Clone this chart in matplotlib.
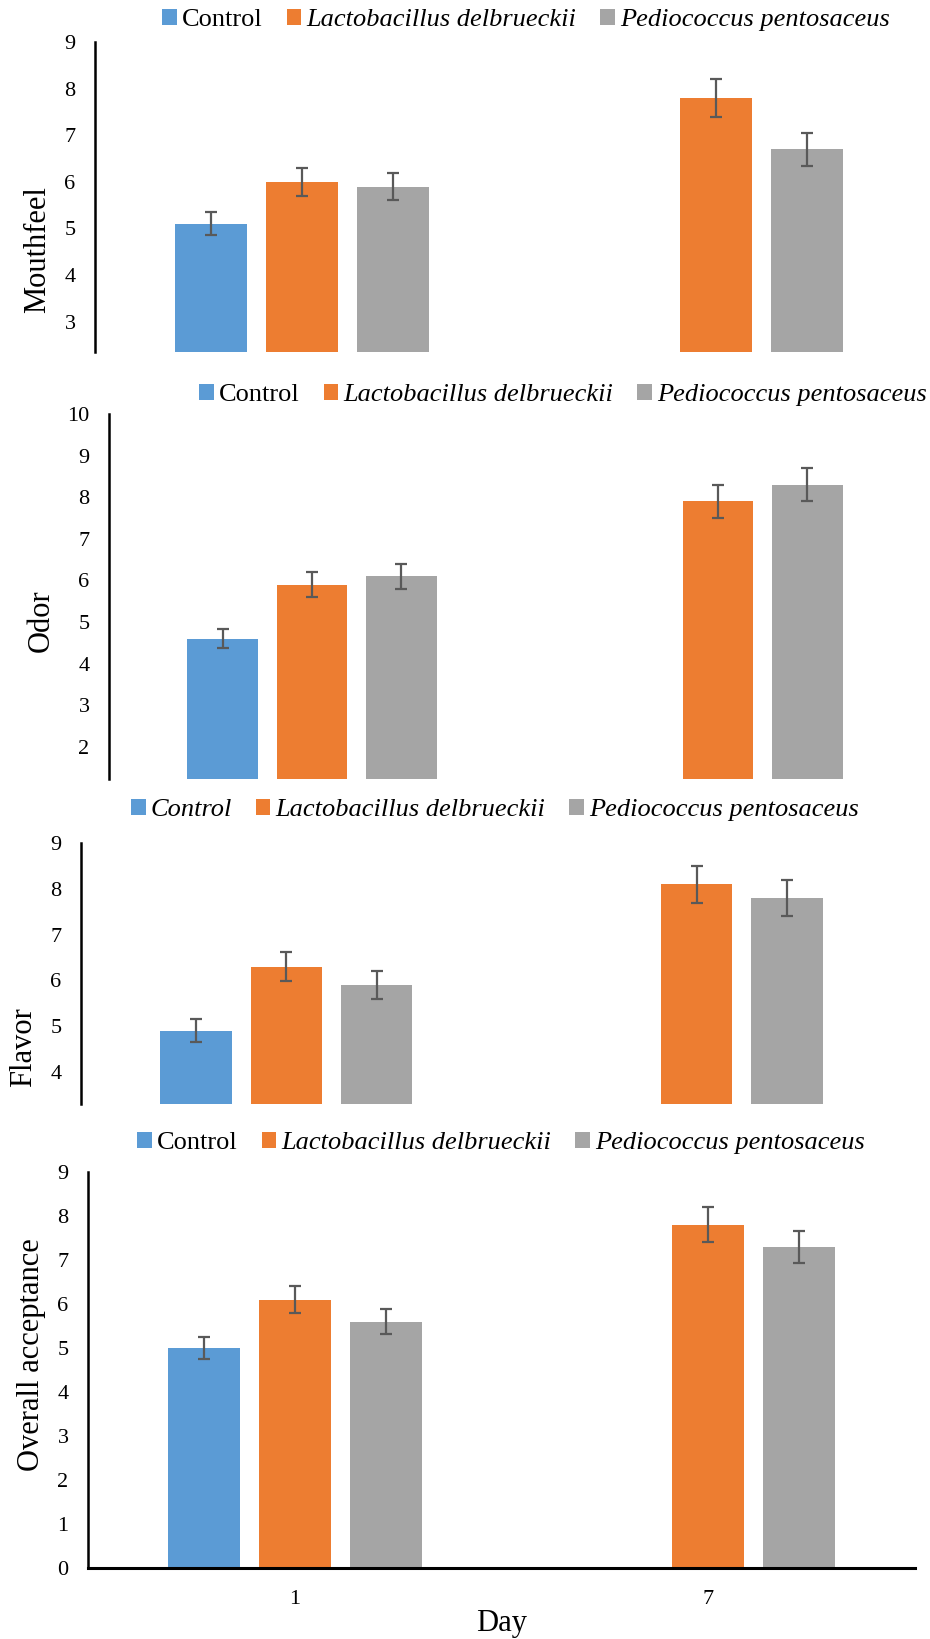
import numpy as np
import matplotlib
matplotlib.use('Agg')
import matplotlib.pyplot as plt

plt.rcParams['font.family'] = ['Liberation Serif', 'DejaVu Serif']

# data
days = ['1', '7']
groups = ['Control', 'Lactobacillus delbrueckii', 'Pediococcus pentosaceus']
colors = ['#5B9BD5', '#ED7D31', '#A5A5A5']

mouthfeel = [[5.1, 0.0], [6.0, 7.8], [5.9, 6.7]]
mouthfeel_err = [[0.25, 0.0], [0.30, 0.40], [0.30, 0.35]]

odor = [[4.6, 0.0], [5.9, 7.9], [6.1, 8.3]]
odor_err = [[0.23, 0.0], [0.30, 0.40], [0.30, 0.40]]

flavor = [[4.9, 0.0], [6.3, 8.1], [5.9, 7.8]]
flavor_err = [[0.25, 0.0], [0.31, 0.40], [0.30, 0.40]]

overall = [[5.0, 0.0], [6.1, 7.8], [5.6, 7.3]]
overall_err = [[0.25, 0.0], [0.31, 0.40], [0.29, 0.37]]

W, H = 930, 1639
fig = plt.figure(figsize=(W / 100, H / 100), dpi=100)


def px_axes(left, right, top, bottom):
    return fig.add_axes([left / W, 1 - bottom / H, (right - left) / W, (bottom - top) / H])


def draw_panel(box, vals, errs, ylim, ticks, ylabel, label_xy, legend_xy,
               italic_control=False, show_x=False):
    ax = px_axes(*box)
    x = np.arange(len(days))
    width = 0.174
    step = 0.22
    for i, (v, e) in enumerate(zip(vals, errs)):
        xs = x + (i - 1) * step
        v = np.array(v)
        e = np.array(e)
        ax.bar(xs, v, width, color=colors[i], label=groups[i], zorder=2)
        m = v > 0
        ax.errorbar(xs[m], v[m], yerr=e[m], fmt='none', ecolor='#595959',
                    elinewidth=1.6, capsize=4.5, capthick=1.6, zorder=3)
    ax.set_xlim(-0.5, 1.5)
    ax.set_ylim(*ylim)
    ax.set_yticks(ticks)
    ax.tick_params(axis='y', length=0, pad=14, labelsize=16)
    for s in ['top', 'right']:
        ax.spines[s].set_visible(False)
    ax.spines['left'].set_linewidth(1.8)
    if show_x:
        ax.spines['bottom'].set_linewidth(2.2)
        ax.set_xticks(x)
        ax.set_xticklabels(days)
        ax.tick_params(axis='x', length=0, pad=16, labelsize=16)
        ax.set_xlabel('Day', fontsize=22, labelpad=0)
    else:
        ax.spines['bottom'].set_visible(False)
        ax.set_xticks([])
    fig.text(label_xy[0] / W, 1 - label_xy[1] / H, ylabel, rotation=90,
             ha='center', va='center', fontsize=22)
    leg = ax.legend(loc='center', bbox_to_anchor=(legend_xy[0] / W, 1 - legend_xy[1] / H),
                    bbox_transform=fig.transFigure, ncol=3, frameon=False,
                    fontsize=19, handlelength=0.55, handleheight=0.55,
                    handletextpad=0.2, columnspacing=0.9, borderpad=0)
    texts = leg.get_texts()
    texts[1].set_fontstyle('italic')
    texts[2].set_fontstyle('italic')
    if italic_control:
        texts[0].set_fontstyle('italic')
    return ax


draw_panel((95, 923, 42, 352), mouthfeel, mouthfeel_err, (2.35, 9), range(3, 10),
           'Mouthfeel', (38, 250), (526, 20))
draw_panel((109, 921, 414, 779), odor, odor_err, (1.23, 10), range(2, 11),
           'Odor', (41, 621), (563, 395))
draw_panel((81, 902, 843, 1104), flavor, flavor_err, (3.30, 9), range(4, 10),
           'Flavor', (24, 1047), (495, 810), italic_control=True)
draw_panel((88, 915, 1172, 1568), overall, overall_err, (0, 9), range(0, 10),
           'Overall acceptance', (31, 1355), (501, 1143), show_x=True)

fig.savefig('out.png', dpi=100)
